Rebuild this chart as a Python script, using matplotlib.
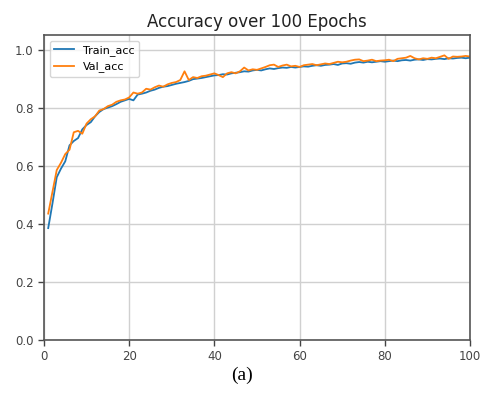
import matplotlib
matplotlib.use("Agg")
import matplotlib.pyplot as plt

epochs = list(range(1, 101))
train_acc = [0.385, 0.47, 0.56, 0.59, 0.615, 0.67, 0.685, 0.695, 0.725, 0.74,
             0.75, 0.77, 0.785, 0.795, 0.80, 0.805, 0.812, 0.82, 0.825, 0.83,
             0.825, 0.845, 0.848, 0.852, 0.858, 0.862, 0.868, 0.872, 0.874, 0.878,
             0.882, 0.885, 0.888, 0.892, 0.898, 0.90, 0.902, 0.905, 0.908, 0.911,
             0.912, 0.915, 0.914, 0.918, 0.92, 0.922, 0.925, 0.924, 0.928, 0.93,
             0.928, 0.932, 0.935, 0.933, 0.936, 0.938, 0.937, 0.94, 0.938, 0.94,
             0.942, 0.941, 0.944, 0.946, 0.944, 0.947, 0.948, 0.95, 0.947, 0.952,
             0.953, 0.951, 0.955, 0.957, 0.955, 0.958, 0.956, 0.958, 0.96, 0.958,
             0.96, 0.962, 0.96, 0.963, 0.964, 0.962, 0.965, 0.966, 0.964, 0.967,
             0.966, 0.968, 0.969, 0.967, 0.97, 0.969, 0.971, 0.972, 0.97, 0.972]
val_acc = [0.435, 0.51, 0.585, 0.61, 0.64, 0.655, 0.715, 0.72, 0.71, 0.745,
           0.76, 0.77, 0.79, 0.795, 0.805, 0.81, 0.82, 0.825, 0.828, 0.835,
           0.852, 0.848, 0.852, 0.865, 0.862, 0.87, 0.876, 0.872, 0.88, 0.885,
           0.888, 0.895, 0.925, 0.895, 0.905, 0.902, 0.908, 0.91, 0.914, 0.918,
           0.912, 0.905, 0.918, 0.922, 0.918, 0.925, 0.938, 0.928, 0.932, 0.93,
           0.935, 0.94, 0.946, 0.948, 0.94, 0.945, 0.948, 0.942, 0.944, 0.94,
           0.946, 0.948, 0.95, 0.946, 0.949, 0.952, 0.95, 0.954, 0.958, 0.956,
           0.958, 0.962, 0.965, 0.966, 0.96, 0.962, 0.965, 0.96, 0.962, 0.963,
           0.965, 0.96, 0.968, 0.97, 0.972, 0.978, 0.97, 0.966, 0.97, 0.968,
           0.972, 0.97, 0.975, 0.98, 0.968, 0.976, 0.975, 0.976, 0.978, 0.976]
xticks = [0, 20, 40, 60, 80, 100]
yticks = [0.0, 0.2, 0.4, 0.6, 0.8, 1.0]

fig = plt.figure(figsize=(4.83, 3.98), dpi=100)
ax = fig.add_axes([0.091, 0.146, 0.882, 0.766])
ax.plot(epochs, train_acc, color="#1f77b4", lw=1.3, label="Train_acc")
ax.plot(epochs, val_acc, color="#ff7f0e", lw=1.3, label="Val_acc")
ax.set_xlim(0, 100)
ax.set_ylim(0, 1.05)
ax.set_xticks(xticks)
ax.set_yticks(yticks)
ax.set_yticklabels([f"{v:.1f}" for v in yticks])
ax.grid(True, color="#d0d0d0", lw=1.0)
ax.set_axisbelow(True)
for s in ax.spines.values():
    s.set_color("#555555")
    s.set_linewidth(1.2)
ax.tick_params(labelsize=8.5, colors="#444444", length=4, width=1.0)
ax.set_title("Accuracy over 100 Epochs", fontsize=12, color="#222222", pad=6)
leg = ax.legend(loc="upper left", fontsize=8, frameon=True, handlelength=1.8)
fig.text(0.5, 0.057, "(a)", ha="center", va="center", fontsize=14,
         family="Liberation Serif")
fig.savefig("out.png", dpi=100)
